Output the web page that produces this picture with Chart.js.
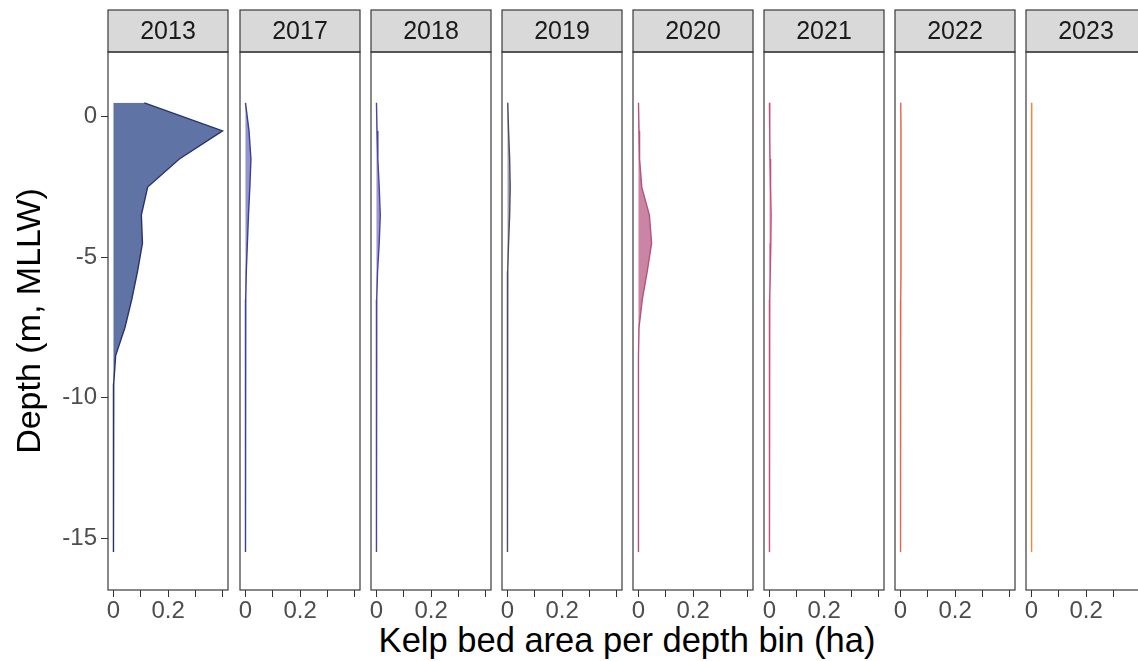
<!DOCTYPE html>
<html>
<head>
<meta charset="utf-8">
<title>Kelp bed area per depth bin</title>
<script src="https://cdn.jsdelivr.net/npm/chart.js@4.4.1/dist/chart.umd.min.js"></script>
<style>
  html, body { margin: 0; padding: 0; background: #fff; overflow: hidden; }
  #wrap { position: relative; width: 1138px; height: 661px; overflow: hidden; }
  .panel { position: absolute; top: 0; }
  #xtitle {
    position: absolute; top: 623px; left: 627px; transform: translateX(-50%);
    font: 34.5px "Liberation Sans", Arial, Helvetica, sans-serif; line-height: 1;
    white-space: nowrap; color: #000;
  }
</style>
</head>
<body>
<div id="wrap">
  <div id="xtitle">Kelp bed area per depth bin (ha)</div>
</div>
<script>
// depth bins (m, MLLW), one value per bin and year
const YEARS = ['2013', '2017', '2018', '2019', '2020', '2021', '2022', '2023'];
const DEPTHS = [0.5, -0.5, -1.5, -2.5, -3.5, -4.5, -5.5, -6.5, -7.5, -8.5, -9.5, -10.5, -11.5, -12.5, -13.5, -14.5, -15.5];

const AREA_2013 = [0.113, 0.399, 0.241, 0.125, 0.102, 0.106, 0.088, 0.067, 0.042, 0.008, 0.001, 0, 0, 0, 0, 0, 0];
const AREA_2017 = [0.000, 0.013, 0.020, 0.016, 0.011, 0.007, 0.003, 0.001, 0.001, 0, 0, 0, 0, 0, 0, 0, 0];
const AREA_2018 = [0.000, 0.002, 0.005, 0.010, 0.014, 0.010, 0.004, 0.001, 0, 0, 0, 0, 0, 0, 0, 0, 0];
const AREA_2019 = [0.001, 0.004, 0.008, 0.010, 0.008, 0.004, 0.001, 0, 0, 0, 0, 0, 0, 0, 0, 0, 0];
const AREA_2020 = [0.000, 0.002, 0.004, 0.012, 0.040, 0.048, 0.032, 0.014, 0.002, 0, 0, 0, 0, 0, 0, 0, 0];
const AREA_2021 = [0.000, 0.001, 0.002, 0.004, 0.006, 0.005, 0.003, 0.001, 0, 0, 0, 0, 0, 0, 0, 0, 0];
const AREA_2022 = [0.001, 0.002, 0.002, 0.002, 0.002, 0.002, 0.002, 0.001, 0.001, 0.001, 0, 0, 0, 0, 0, 0, 0];
const AREA_2023 = [0.001, 0.001, 0.001, 0.001, 0.001, 0.001, 0.001, 0.001, 0, 0, 0, 0, 0, 0, 0, 0, 0];
const AREAS = [AREA_2013, AREA_2017, AREA_2018, AREA_2019, AREA_2020, AREA_2021, AREA_2022, AREA_2023];

const X_TICKS = [0, 0.1, 0.2, 0.3, 0.4];
const X_TICK_LABELS = ['0', '', '0.2', '', ''];
const Y_TICKS = [-15, -10, -5, 0];
const Y_TICK_LABELS = ['-15', '-10', '-5', '0'];

// styling
const LINE_COLORS = ['#28336e', '#3a3d9c', '#4a42a6', '#4a4a62', '#b5517d', '#cc4a72', '#ec6149', '#f0873f'];
const FILL_COLORS = ['rgba(50,75,140,0.78)', 'rgba(58,61,156,0.55)', 'rgba(74,66,166,0.55)', 'rgba(74,74,98,0.5)',
                     'rgba(181,81,125,0.7)', 'rgba(204,74,114,0.55)', 'rgba(236,97,73,0.55)', 'rgba(240,135,63,0.55)'];
const FONT = '"Liberation Sans", Arial, Helvetica, sans-serif';

const H = 661;
const STRIP_TOP = 10, PANEL_TOP = 52, PANEL_BOTTOM = 590;
const PANEL_X0 = 108.4, PANEL_STEP = 131.1, PANEL_W = 120, SIDE = 14;
const X_MIN = -0.02, X_MAX = 0.419, Y_MIN = -16.85, Y_MAX = 2.31;

// facet strip on top + box around the panel
const facetFrame = {
  id: 'facetFrame',
  afterDraw(chart, args, opts) {
    const {ctx, chartArea: {left, right, top, bottom}} = chart;
    ctx.save();
    ctx.fillStyle = '#d9d9d9';
    ctx.fillRect(left, STRIP_TOP, right - left, top - STRIP_TOP);
    ctx.strokeStyle = '#3a3a3a';
    ctx.lineWidth = 1.2;
    ctx.strokeRect(left, STRIP_TOP, right - left, top - STRIP_TOP);
    ctx.strokeRect(left, top, right - left, bottom - top);
    ctx.fillStyle = '#1a1a1a';
    ctx.font = '25px ' + FONT;
    ctx.textAlign = 'center';
    ctx.textBaseline = 'middle';
    ctx.fillText(opts.label, (left + right) / 2, (STRIP_TOP + top) / 2 + 1);
    ctx.restore();
  }
};

const wrap = document.getElementById('wrap');

YEARS.forEach((year, i) => {
  const panelLeft = Math.round(PANEL_X0 + PANEL_STEP * i);
  const first = i === 0;
  const boxLeft = first ? 0 : panelLeft - SIDE;
  const boxWidth = first ? panelLeft + PANEL_W + SIDE : PANEL_W + 2 * SIDE;

  const div = document.createElement('div');
  div.className = 'panel';
  div.style.left = boxLeft + 'px';
  const canvas = document.createElement('canvas');
  canvas.width = boxWidth;
  canvas.height = H;
  div.appendChild(canvas);
  wrap.appendChild(div);

  new Chart(canvas, {
    type: 'line',
    data: {
      datasets: [{
        data: DEPTHS.map((d, k) => ({x: AREAS[i][k], y: d})),
        borderColor: LINE_COLORS[i],
        backgroundColor: FILL_COLORS[i],
        borderWidth: 1.4,
        fill: 'origin',
        pointRadius: 0,
        tension: 0
      }]
    },
    options: {
      indexAxis: 'y',
      responsive: false,
      animation: false,
      events: [],
      layout: {padding: {left: first ? 0 : SIDE, right: SIDE, top: PANEL_TOP, bottom: 0}},
      plugins: {
        legend: {display: false},
        tooltip: {enabled: false},
        facetFrame: {label: year}
      },
      scales: {
        x: {
          type: 'linear',
          min: X_MIN,
          max: X_MAX,
          afterBuildTicks: s => { s.ticks = X_TICKS.map(v => ({value: v})); },
          afterFit: s => { s.height = H - PANEL_BOTTOM; },
          grid: {drawOnChartArea: false, tickLength: 7, color: '#333', lineWidth: 1},
          border: {display: false},
          ticks: {
            autoSkip: false, maxRotation: 0, padding: 2,
            color: '#4d4d4d',
            font: {family: FONT, size: 24, lineHeight: 1},
            callback: (v, idx) => X_TICK_LABELS[idx]
          }
        },
        y: {
          type: 'linear',
          display: first,
          min: Y_MIN,
          max: Y_MAX,
          afterBuildTicks: s => { s.ticks = Y_TICKS.map(v => ({value: v})); },
          // only the first panel carries the depth axis
          afterFit: s => { s.width = first ? panelLeft : 0; },
          grid: {drawOnChartArea: false, tickLength: 7, color: '#333', lineWidth: 1},
          border: {display: false},
          ticks: {
            padding: 4,
            color: '#4d4d4d',
            font: {family: FONT, size: 24},
            callback: (v, idx) => Y_TICK_LABELS[idx]
          },
          title: {
            display: true,
            text: 'Depth (m, MLLW)',
            color: '#000',
            font: {family: FONT, size: 34},
            padding: {top: 10, bottom: 0}
          }
        }
      }
    },
    plugins: [facetFrame]
  });
});
</script>
</body>
</html>
